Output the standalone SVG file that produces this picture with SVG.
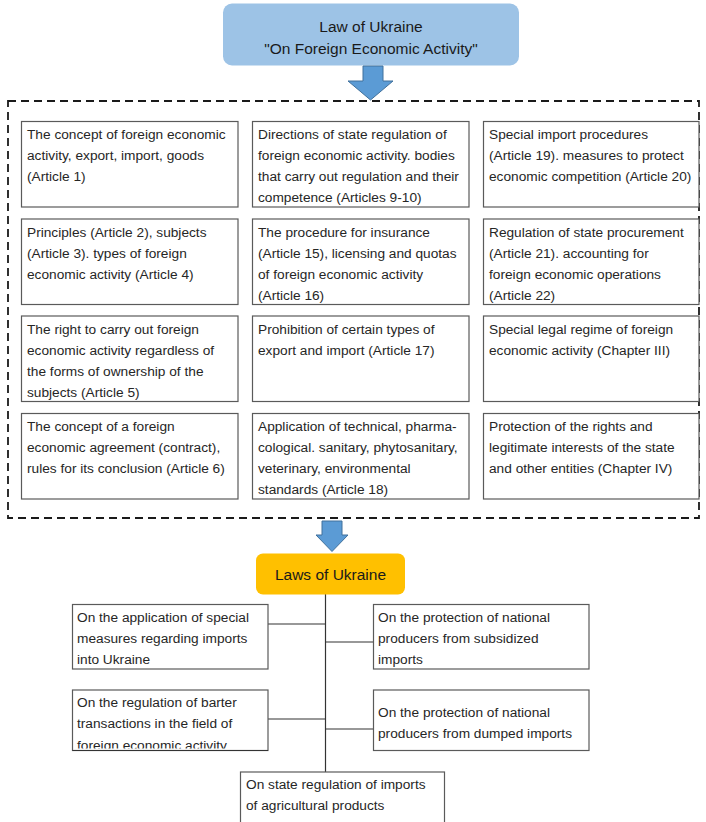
<svg xmlns="http://www.w3.org/2000/svg" width="706" height="822" viewBox="0 0 706 822">
<defs>
<style>
.bx{fill:#fff;stroke:#5a5a5a;stroke-width:1.2}
.t{font-family:"Liberation Sans",Arial,sans-serif;font-size:13.7px;fill:#262626}
.h{font-family:"Liberation Sans",Arial,sans-serif;font-size:15.5px;fill:#1a1a1a}
.ln{stroke:#333;stroke-width:1.2;fill:none}
.ar{fill:#5B9BD5;stroke:#41719C;stroke-width:1}
</style>
<clipPath id="cTop"><rect x="223" y="3" width="296" height="56"/></clipPath>
<clipPath id="cL2"><rect x="72" y="690" width="196" height="58.5"/></clipPath>
</defs>
<rect width="706" height="822" fill="#fff"/>

<g id="top">
<rect x="223" y="3.5" width="296" height="62" rx="9" fill="#9DC3E6"/>
<g clip-path="url(#cTop)">
<text class="h" text-anchor="middle" x="371" y="32">Law of Ukraine</text>
<text class="h" text-anchor="middle" x="371" y="54">"On Foreign Economic Activity"</text>
</g>
</g>

<g id="connectors">
<path class="ar" d="M363,66 H383 V81 H393 L370.5,100 L348,81 H363 Z"/>
<rect x="8" y="101" width="691" height="417" fill="none" stroke="#1a1a1a" stroke-width="1.8" stroke-dasharray="8,5"/>
<path class="ar" d="M322,521 H342 V535 H348 L332,551.5 L316,535 H322 Z"/>
<path class="ln" d="M325.5,594 V772"/>
<path class="ln" d="M268,624 H325.5"/>
<path class="ln" d="M325.5,642 H373"/>
<path class="ln" d="M268,719 H325.5"/>
<path class="ln" d="M325.5,729 H373"/>
</g>

<g id="n11"><rect class="bx" x="21.5" y="121.5" width="216.5" height="85.5"/>
<text class="t"><tspan x="27" y="139">The concept of foreign economic</tspan><tspan x="27" y="160">activity, export, import, goods</tspan><tspan x="27" y="181">(Article 1)</tspan></text></g>
<g id="n12"><rect class="bx" x="252.5" y="121.5" width="216.5" height="85.5"/>
<text class="t"><tspan x="258" y="139">Directions of state regulation of</tspan><tspan x="258" y="160">foreign economic activity. bodies</tspan><tspan x="258" y="181">that carry out regulation and their</tspan><tspan x="258" y="202">competence (Articles 9-10)</tspan></text></g>
<g id="n13"><rect class="bx" x="483.5" y="121.5" width="215.5" height="85.5"/>
<text class="t"><tspan x="489" y="139">Special import procedures</tspan><tspan x="489" y="160">(Article 19). measures to protect</tspan><tspan x="489" y="181">economic competition (Article 20)</tspan></text></g>

<g id="n21"><rect class="bx" x="21.5" y="219" width="216.5" height="85.5"/>
<text class="t"><tspan x="27" y="237">Principles (Article 2), subjects</tspan><tspan x="27" y="258">(Article 3). types of foreign</tspan><tspan x="27" y="279">economic activity (Article 4)</tspan></text></g>
<g id="n22"><rect class="bx" x="252.5" y="219" width="216.5" height="85.5"/>
<text class="t"><tspan x="258" y="237">The procedure for insurance</tspan><tspan x="258" y="258">(Article 15), licensing and quotas</tspan><tspan x="258" y="279">of foreign economic activity</tspan><tspan x="258" y="300">(Article 16)</tspan></text></g>
<g id="n23"><rect class="bx" x="483.5" y="219" width="215.5" height="85.5"/>
<text class="t"><tspan x="489" y="237">Regulation of state procurement</tspan><tspan x="489" y="258">(Article 21). accounting for</tspan><tspan x="489" y="279">foreign economic operations</tspan><tspan x="489" y="300">(Article 22)</tspan></text></g>

<g id="n31"><rect class="bx" x="21.5" y="316" width="216.5" height="85.5"/>
<text class="t"><tspan x="27" y="334">The right to carry out foreign</tspan><tspan x="27" y="355">economic activity regardless of</tspan><tspan x="27" y="376">the forms of ownership of the</tspan><tspan x="27" y="397">subjects (Article 5)</tspan></text></g>
<g id="n32"><rect class="bx" x="252.5" y="316" width="216.5" height="85.5"/>
<text class="t"><tspan x="258" y="334">Prohibition of certain types of</tspan><tspan x="258" y="355">export and import (Article 17)</tspan></text></g>
<g id="n33"><rect class="bx" x="483.5" y="316" width="215.5" height="85.5"/>
<text class="t"><tspan x="489" y="334">Special legal regime of foreign</tspan><tspan x="489" y="355">economic activity (Chapter III)</tspan></text></g>

<g id="n41"><rect class="bx" x="21.5" y="413.5" width="216.5" height="85.5"/>
<text class="t"><tspan x="27" y="431">The concept of a foreign</tspan><tspan x="27" y="452">economic agreement (contract),</tspan><tspan x="27" y="473">rules for its conclusion (Article 6)</tspan></text></g>
<g id="n42"><rect class="bx" x="252.5" y="413.5" width="216.5" height="85.5"/>
<text class="t"><tspan x="258" y="431">Application of technical, pharma-</tspan><tspan x="258" y="452">cological. sanitary, phytosanitary,</tspan><tspan x="258" y="473">veterinary, environmental</tspan><tspan x="258" y="494">standards (Article 18)</tspan></text></g>
<g id="n43"><rect class="bx" x="483.5" y="413.5" width="215.5" height="85.5"/>
<text class="t"><tspan x="489" y="431">Protection of the rights and</tspan><tspan x="489" y="452">legitimate interests of the state</tspan><tspan x="489" y="473">and other entities (Chapter IV)</tspan></text></g>

<g id="laws">
<rect x="256" y="553.5" width="149" height="41" rx="7" fill="#FFC000"/>
<text class="h" text-anchor="middle" x="330.5" y="579.5">Laws of Ukraine</text>
</g>

<g id="l1"><rect class="bx" x="72.5" y="604.5" width="195.5" height="64.5"/>
<text class="t"><tspan x="77" y="622">On the application of special</tspan><tspan x="77" y="643">measures regarding imports</tspan><tspan x="77" y="664">into Ukraine</tspan></text></g>
<g id="r1"><rect class="bx" x="373.5" y="604.5" width="215.5" height="64.5"/>
<text class="t"><tspan x="378" y="622">On the protection of national</tspan><tspan x="378" y="643">producers from subsidized</tspan><tspan x="378" y="664">imports</tspan></text></g>

<g id="l2"><rect class="bx" x="72.5" y="690" width="195.5" height="60.5"/>
<g clip-path="url(#cL2)"><text class="t"><tspan x="77" y="707">On the regulation of barter</tspan><tspan x="77" y="728">transactions in the field of</tspan><tspan x="77" y="750">foreign economic activity</tspan></text></g>
<path class="ln" d="M72.5,750.5 H268"/></g>
<g id="r2"><rect class="bx" x="373.5" y="690" width="215.5" height="60.5"/>
<text class="t"><tspan x="378" y="717">On the protection of national</tspan><tspan x="378" y="738">producers from dumped imports</tspan></text></g>

<g id="b1"><rect class="bx" x="240.5" y="772" width="204" height="60"/>
<text class="t"><tspan x="246" y="789">On state regulation of imports</tspan><tspan x="246" y="810">of agricultural products</tspan></text></g>
</svg>
